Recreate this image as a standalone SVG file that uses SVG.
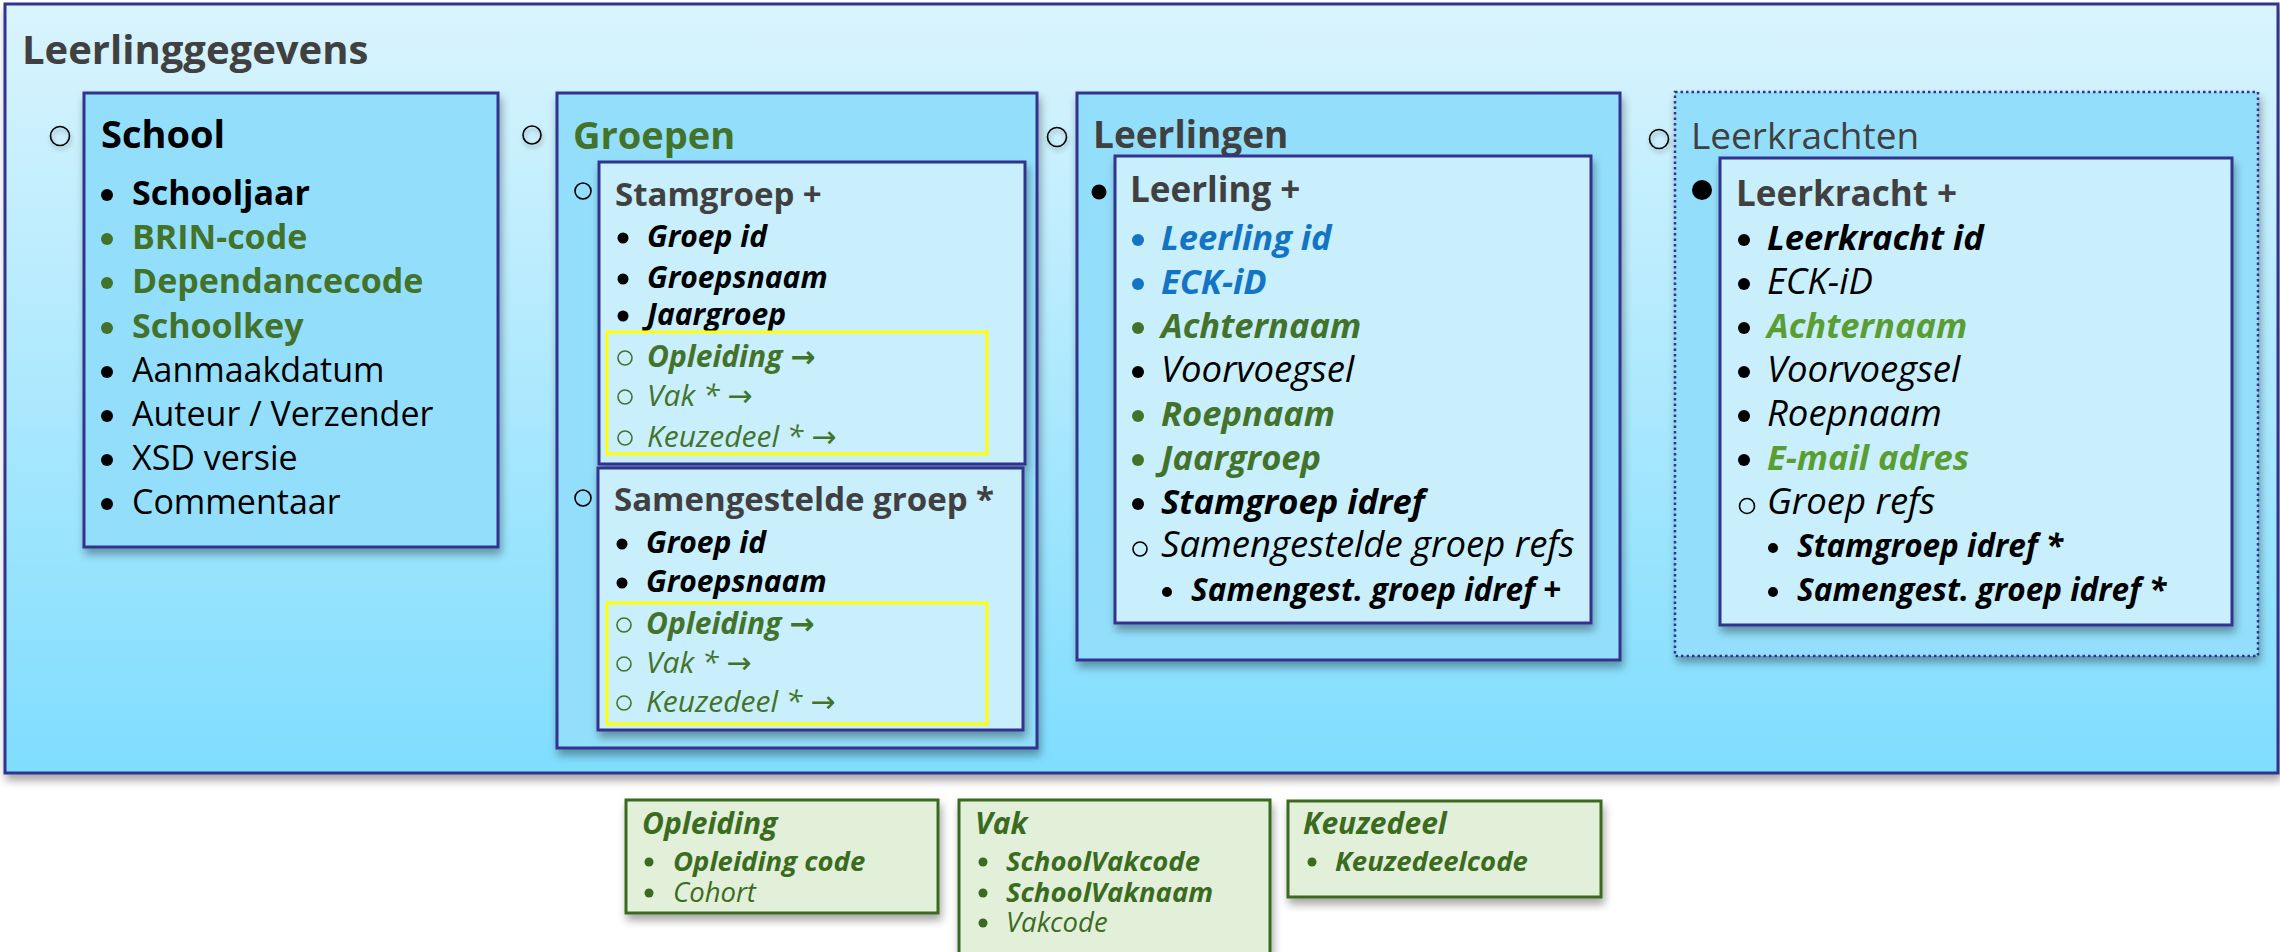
<svg xmlns="http://www.w3.org/2000/svg" width="2280" height="952" viewBox="0 0 2280 952">
<defs>
<linearGradient id="outerGrad" x1="0" y1="0" x2="0" y2="1">
<stop offset="0" stop-color="#DAF4FD"/>
<stop offset="1" stop-color="#7FDDFE"/>
</linearGradient>
<filter id="shadow" x="-5%" y="-5%" width="115%" height="120%">
<feDropShadow dx="2" dy="6" stdDeviation="4" flood-color="#000" flood-opacity="0.35"/>
</filter>
<filter id="shadowS" x="-20%" y="-20%" width="160%" height="160%">
<feDropShadow dx="1" dy="3" stdDeviation="2" flood-color="#000" flood-opacity="0.3"/>
</filter>
</defs>
<style>
text { font-family: "Open Sans", "DejaVu Sans", sans-serif; fill: #000; }
.b { font-weight: 700; }
.i { font-style: italic; }
.dk { fill: #404040; }
.g { fill: #43732A; }
.lg { fill: #5A9E33; }
.bl { fill: #1474C4; }
.bg { fill: #3B6B1F; }
.arr { font-family: "DejaVu Sans", sans-serif; font-style: normal; }
.box1 { fill: #93DFFB; stroke: #30338F; stroke-width: 3; }
.box2 { fill: #C9EEFC; stroke: #30338F; stroke-width: 3; }
.ybox { fill: none; stroke: #FFFF00; stroke-width: 3; }
.gbox { fill: #E2F0DA; stroke: #3B6B1F; stroke-width: 3; }
.oc { fill: none; stroke: #000; stroke-width: 1.6; }
.ocg { fill: none; stroke: #43732A; stroke-width: 1.6; }
.s34 { font-size: 34px; }
.s33 { font-size: 33px; }
.s30 { font-size: 30px; }
.bi { font-size: 34.5px; }
.ri { font-size: 36.5px; }
.sub { font-size: 31.5px; }
.t30 { font-size: 30px; }
.s27 { font-size: 27.5px; }
</style>

<g id="leerlinggegevens">
<rect x="5" y="4" width="2273" height="769" fill="url(#outerGrad)" stroke="#30338F" stroke-width="3" filter="url(#shadow)"/>
<text x="22" y="64" class="b dk" font-size="40">Leerlinggegevens</text>
</g>

<g id="school">
<circle cx="60" cy="136" r="9.5" class="oc" filter="url(#shadowS)"/>
<rect x="84" y="93" width="414" height="454" class="box1" filter="url(#shadow)"/>
<text x="101" y="148" class="b" font-size="38">School</text>
<circle cx="107" cy="195" r="6"/>
<text x="132" y="205" class="b s34">Schooljaar</text>
<circle cx="107" cy="239" r="6" fill="#43732A"/>
<text x="132" y="249" class="b s34 g">BRIN-code</text>
<circle cx="107" cy="283" r="6" fill="#43732A"/>
<text x="132" y="293" class="b s34 g">Dependancecode</text>
<circle cx="107" cy="328" r="6" fill="#43732A"/>
<text x="132" y="338" class="b s34 g">Schoolkey</text>
<circle cx="107" cy="372" r="6"/>
<text x="132" y="382" class="s34">Aanmaakdatum</text>
<circle cx="107" cy="416" r="6"/>
<text x="132" y="426" class="s34">Auteur / Verzender</text>
<circle cx="107" cy="460" r="6"/>
<text x="132" y="470" class="s34">XSD versie</text>
<circle cx="107" cy="504" r="6"/>
<text x="132" y="514" class="s34">Commentaar</text>
</g>

<g id="groepen">
<circle cx="532" cy="135" r="9" class="oc" filter="url(#shadowS)"/>
<rect x="557" y="93" width="480" height="655" class="box1" filter="url(#shadow)"/>
<text x="573" y="149" class="b g" font-size="38">Groepen</text>
</g>

<g id="stamgroep">
<circle cx="583" cy="191" r="8" class="oc"/>
<rect x="599" y="162" width="426" height="302" class="box2" filter="url(#shadow)"/>
<text x="615" y="206" class="b dk s33">Stamgroep +</text>
<circle cx="623" cy="238" r="5.5"/>
<text x="647" y="247" class="b i s30">Groep  id</text>
<circle cx="623" cy="279" r="5.5"/>
<text x="647" y="288" class="b i s30">Groepsnaam</text>
<circle cx="623" cy="316" r="5.5"/>
<text x="647" y="325" class="b i s30">Jaargroep</text>
<rect x="607" y="332" width="380" height="122" class="ybox"/>
<circle cx="625" cy="358" r="7" class="ocg"/>
<text x="647" y="367" class="b i s30 g">Opleiding <tspan class="arr">→</tspan></text>
<circle cx="625" cy="397" r="7" class="ocg"/>
<text x="647" y="406" class="i s30 g">Vak * <tspan class="arr">→</tspan></text>
<circle cx="625" cy="438" r="7" class="ocg"/>
<text x="647" y="447" class="i s30 g">Keuzedeel * <tspan class="arr">→</tspan></text>
</g>

<g id="samengestelde-groep">
<circle cx="583" cy="498" r="8" class="oc"/>
<rect x="598" y="468" width="425" height="262" class="box2" filter="url(#shadow)"/>
<text x="614" y="511" class="b dk s33">Samengestelde groep *</text>
<circle cx="622" cy="544" r="5.5"/>
<text x="646" y="553" class="b i s30">Groep  id</text>
<circle cx="622" cy="583" r="5.5"/>
<text x="646" y="592" class="b i s30">Groepsnaam</text>
<rect x="607" y="603" width="380" height="121" class="ybox"/>
<circle cx="624" cy="625" r="7" class="ocg"/>
<text x="646" y="634" class="b i s30 g">Opleiding <tspan class="arr">→</tspan></text>
<circle cx="624" cy="664" r="7" class="ocg"/>
<text x="646" y="673" class="i s30 g">Vak * <tspan class="arr">→</tspan></text>
<circle cx="624" cy="703" r="7" class="ocg"/>
<text x="646" y="712" class="i s30 g">Keuzedeel * <tspan class="arr">→</tspan></text>
</g>

<g id="leerlingen">
<circle cx="1057" cy="137" r="9.5" class="oc" filter="url(#shadowS)"/>
<rect x="1077" y="93" width="543" height="567" class="box1" filter="url(#shadow)"/>
<text x="1093" y="148" class="b dk" font-size="37">Leerlingen</text>
</g>

<g id="leerling">
<circle cx="1099" cy="192" r="7.5"/>
<rect x="1115" y="156" width="476" height="467" class="box2" filter="url(#shadow)"/>
<text x="1130" y="202" class="b dk" font-size="35">Leerling +</text>
<circle cx="1138" cy="240" r="6" fill="#1474C4"/>
<text x="1161" y="250" class="b i bi bl">Leerling id</text>
<circle cx="1138" cy="284" r="6" fill="#1474C4"/>
<text x="1161" y="294" class="b i bi bl">ECK-iD</text>
<circle cx="1138" cy="328" r="6" fill="#43732A"/>
<text x="1161" y="338" class="b i bi g">Achternaam</text>
<circle cx="1138" cy="372" r="6"/>
<text x="1161" y="382" class="i ri">Voorvoegsel</text>
<circle cx="1138" cy="416" r="6" fill="#43732A"/>
<text x="1161" y="426" class="b i bi g">Roepnaam</text>
<circle cx="1138" cy="460" r="6" fill="#43732A"/>
<text x="1161" y="470" class="b i bi g">Jaargroep</text>
<circle cx="1138" cy="504" r="6"/>
<text x="1161" y="514" class="b i bi">Stamgroep idref</text>
<circle cx="1140" cy="549" r="7" class="oc"/>
<text x="1161" y="557" class="i ri">Samengestelde groep refs</text>
<circle cx="1167" cy="592" r="5"/>
<text x="1191" y="601" class="b i sub">Samengest.  groep  idref +</text>
</g>

<g id="leerkrachten">
<circle cx="1659" cy="139" r="9.5" class="oc" filter="url(#shadowS)"/>
<rect x="1675" y="92" width="583" height="564" fill="#93DFFB" stroke="#30338F" stroke-width="2.5" stroke-dasharray="2.5 3" filter="url(#shadow)"/>
<text x="1691" y="149" class="dk" font-size="37">Leerkrachten</text>
</g>

<g id="leerkracht">
<circle cx="1702" cy="190" r="10"/>
<rect x="1720" y="158" width="512" height="467" class="box2" filter="url(#shadow)"/>
<text x="1736" y="206" class="b dk" font-size="35">Leerkracht +</text>
<circle cx="1744" cy="240" r="6"/>
<text x="1767" y="250" class="b i bi">Leerkracht id</text>
<circle cx="1744" cy="284" r="6"/>
<text x="1767" y="294" class="i ri">ECK-iD</text>
<circle cx="1744" cy="328" r="6"/>
<text x="1767" y="338" class="b i bi lg">Achternaam</text>
<circle cx="1744" cy="372" r="6"/>
<text x="1767" y="382" class="i ri">Voorvoegsel</text>
<circle cx="1744" cy="416" r="6"/>
<text x="1767" y="426" class="i ri">Roepnaam</text>
<circle cx="1744" cy="460" r="6"/>
<text x="1767" y="470" class="b i bi lg">E-mail adres</text>
<circle cx="1747" cy="506" r="7.5" class="oc"/>
<text x="1767" y="514" class="i ri">Groep refs</text>
<circle cx="1773" cy="548" r="5"/>
<text x="1797" y="557" class="b i sub">Stamgroep  idref *</text>
<circle cx="1773" cy="592" r="5"/>
<text x="1797" y="601" class="b i sub">Samengest.  groep  idref *</text>
</g>

<g id="connectors"></g>

<g id="opleiding">
<rect x="626" y="800" width="312" height="113" class="gbox" filter="url(#shadow)"/>
<text x="642" y="834" class="b i bg t30">Opleiding</text>
<circle cx="649" cy="862" r="4.5" fill="#3B6B1F"/>
<text x="673" y="871" class="b i s27 bg">Opleiding code</text>
<circle cx="649" cy="893" r="4.5" fill="#3B6B1F"/>
<text x="673" y="902" class="i s27 bg">Cohort</text>
</g>

<g id="vak">
<rect x="959" y="800" width="311" height="170" class="gbox" filter="url(#shadow)"/>
<text x="975" y="834" class="b i bg t30">Vak</text>
<circle cx="983" cy="862" r="4.5" fill="#3B6B1F"/>
<text x="1006" y="871" class="b i s27 bg">SchoolVakcode</text>
<circle cx="983" cy="893" r="4.5" fill="#3B6B1F"/>
<text x="1006" y="902" class="b i s27 bg">SchoolVaknaam</text>
<circle cx="983" cy="923" r="4.5" fill="#3B6B1F"/>
<text x="1006" y="932" class="i s27 bg">Vakcode</text>
</g>

<g id="keuzedeel">
<rect x="1288" y="801" width="313" height="96" class="gbox" filter="url(#shadow)"/>
<text x="1303" y="834" class="b i bg t30">Keuzedeel</text>
<circle cx="1312" cy="862" r="4.5" fill="#3B6B1F"/>
<text x="1335" y="871" class="b i s27 bg">Keuzedeelcode</text>
</g>
</svg>
